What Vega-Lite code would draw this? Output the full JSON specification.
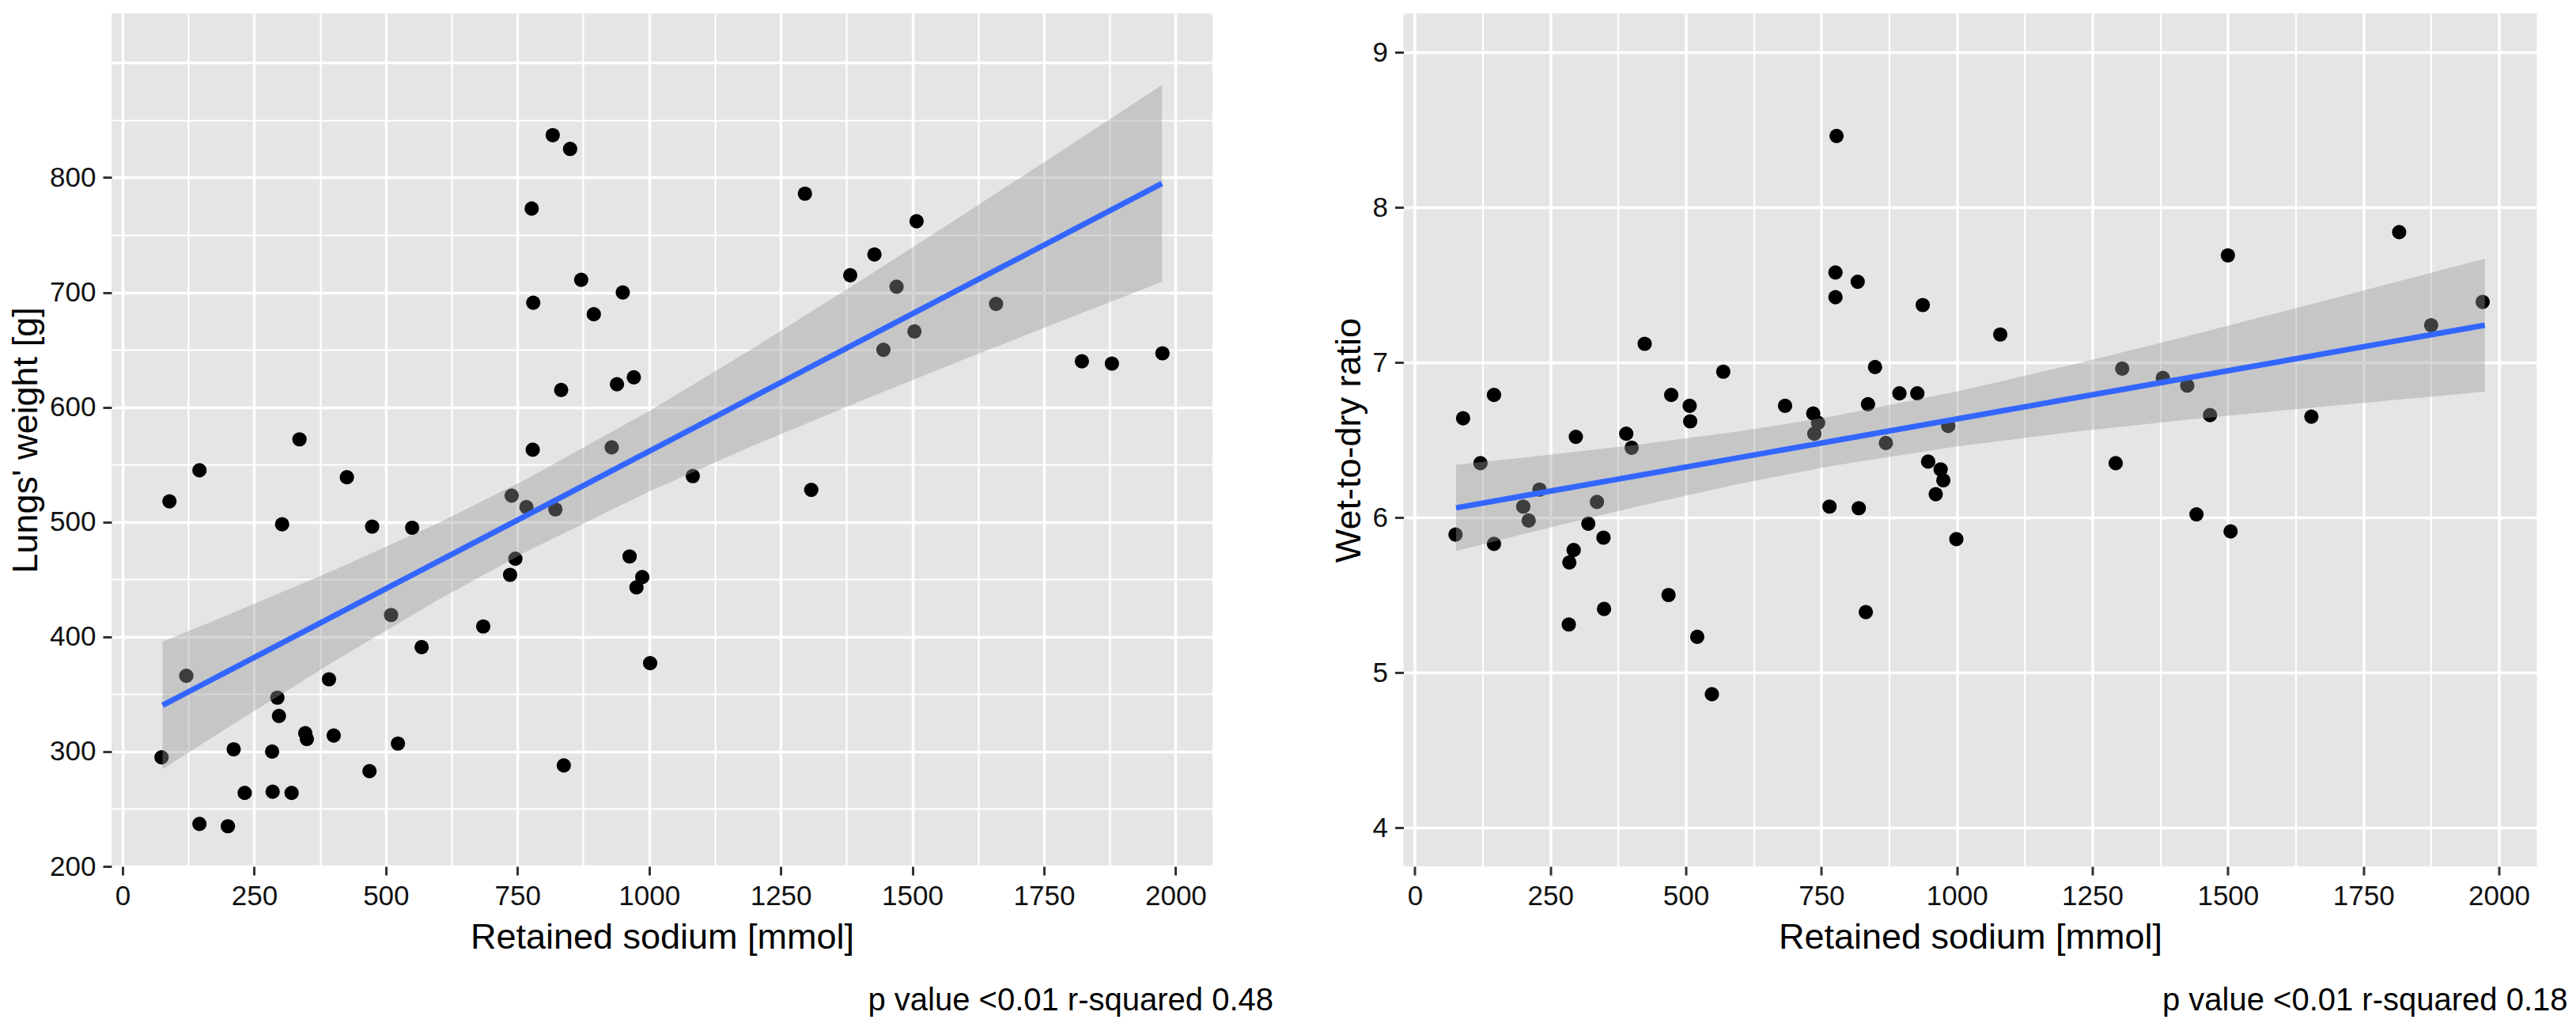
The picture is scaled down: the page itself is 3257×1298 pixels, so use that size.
{
  "$schema": "https://vega.github.io/schema/vega-lite/v6.json",
  "background": "white",
  "padding": {"left": 10, "top": 17, "right": 0, "bottom": 0},
  "datasets": {
    "lungs": [
      {"sodium": 336, "weight": 572}, {"sodium": 146, "weight": 545}, {"sodium": 89, "weight": 518},
      {"sodium": 426, "weight": 539}, {"sodium": 303, "weight": 498}, {"sodium": 474, "weight": 496},
      {"sodium": 550, "weight": 495}, {"sodium": 779, "weight": 563}, {"sodium": 739, "weight": 523},
      {"sodium": 767, "weight": 513}, {"sodium": 822, "weight": 511}, {"sodium": 746, "weight": 468},
      {"sodium": 736, "weight": 454}, {"sodium": 510, "weight": 419}, {"sodium": 685, "weight": 409},
      {"sodium": 568, "weight": 391}, {"sodium": 121, "weight": 366}, {"sodium": 392, "weight": 363},
      {"sodium": 294, "weight": 347}, {"sodium": 297, "weight": 331}, {"sodium": 347, "weight": 316},
      {"sodium": 350, "weight": 311}, {"sodium": 401, "weight": 314}, {"sodium": 523, "weight": 307},
      {"sodium": 211, "weight": 302}, {"sodium": 284, "weight": 300}, {"sodium": 74, "weight": 295},
      {"sodium": 469, "weight": 283}, {"sodium": 838, "weight": 288}, {"sodium": 232, "weight": 264},
      {"sodium": 285, "weight": 265}, {"sodium": 321, "weight": 264}, {"sodium": 146, "weight": 237},
      {"sodium": 200, "weight": 235}, {"sodium": 817, "weight": 837}, {"sodium": 850, "weight": 825},
      {"sodium": 777, "weight": 773}, {"sodium": 871, "weight": 711}, {"sodium": 780, "weight": 691},
      {"sodium": 895, "weight": 681}, {"sodium": 833, "weight": 615}, {"sodium": 1296, "weight": 786},
      {"sodium": 1508, "weight": 762}, {"sodium": 1428, "weight": 733}, {"sodium": 1382, "weight": 715},
      {"sodium": 1470, "weight": 705}, {"sodium": 1659, "weight": 690}, {"sodium": 1504, "weight": 666},
      {"sodium": 1445, "weight": 650}, {"sodium": 1822, "weight": 640}, {"sodium": 1879, "weight": 638},
      {"sodium": 1975, "weight": 647}, {"sodium": 950, "weight": 700}, {"sodium": 939, "weight": 620},
      {"sodium": 971, "weight": 626}, {"sodium": 929, "weight": 565}, {"sodium": 1083, "weight": 540},
      {"sodium": 1308, "weight": 528}, {"sodium": 963, "weight": 470}, {"sodium": 987, "weight": 452},
      {"sodium": 976, "weight": 443}, {"sodium": 1002, "weight": 377}
    ],
    "lungs_fit": [
      {"sodium": 76, "fit": 340.3, "lo": 284.8, "hi": 395.8},
      {"sodium": 200, "fit": 370.0, "lo": 321.0, "hi": 419.0},
      {"sodium": 400, "fit": 417.9, "lo": 378.1, "hi": 457.7},
      {"sodium": 600, "fit": 465.8, "lo": 432.4, "hi": 499.2},
      {"sodium": 768, "fit": 506.0, "lo": 474.5, "hi": 537.5},
      {"sodium": 1000, "fit": 561.6, "lo": 526.6, "hi": 596.6},
      {"sodium": 1200, "fit": 609.5, "lo": 567.0, "hi": 652.0},
      {"sodium": 1400, "fit": 657.4, "lo": 605.1, "hi": 709.7},
      {"sodium": 1600, "fit": 705.3, "lo": 641.9, "hi": 768.7},
      {"sodium": 1800, "fit": 753.2, "lo": 678.1, "hi": 828.3},
      {"sodium": 1974, "fit": 794.9, "lo": 709.2, "hi": 880.6}
    ],
    "ratio": [
      {"sodium": 424, "ratio": 7.12}, {"sodium": 569, "ratio": 6.94}, {"sodium": 146, "ratio": 6.79},
      {"sodium": 473, "ratio": 6.79}, {"sodium": 507, "ratio": 6.72}, {"sodium": 508, "ratio": 6.62},
      {"sodium": 89, "ratio": 6.64}, {"sodium": 297, "ratio": 6.52}, {"sodium": 390, "ratio": 6.54},
      {"sodium": 400, "ratio": 6.45}, {"sodium": 121, "ratio": 6.35}, {"sodium": 230, "ratio": 6.18},
      {"sodium": 200, "ratio": 6.07}, {"sodium": 210, "ratio": 5.98}, {"sodium": 336, "ratio": 6.10},
      {"sodium": 320, "ratio": 5.96}, {"sodium": 348, "ratio": 5.87}, {"sodium": 75, "ratio": 5.89},
      {"sodium": 146, "ratio": 5.83}, {"sodium": 293, "ratio": 5.79}, {"sodium": 285, "ratio": 5.71},
      {"sodium": 468, "ratio": 5.50}, {"sodium": 349, "ratio": 5.41}, {"sodium": 284, "ratio": 5.31},
      {"sodium": 521, "ratio": 5.23}, {"sodium": 548, "ratio": 4.86}, {"sodium": 778, "ratio": 8.46},
      {"sodium": 776, "ratio": 7.58}, {"sodium": 817, "ratio": 7.52}, {"sodium": 776, "ratio": 7.42},
      {"sodium": 937, "ratio": 7.37}, {"sodium": 1080, "ratio": 7.18}, {"sodium": 849, "ratio": 6.97},
      {"sodium": 683, "ratio": 6.72}, {"sodium": 836, "ratio": 6.73}, {"sodium": 894, "ratio": 6.80},
      {"sodium": 927, "ratio": 6.80}, {"sodium": 735, "ratio": 6.67}, {"sodium": 744, "ratio": 6.61},
      {"sodium": 737, "ratio": 6.54}, {"sodium": 984, "ratio": 6.59}, {"sodium": 869, "ratio": 6.48},
      {"sodium": 947, "ratio": 6.36}, {"sodium": 970, "ratio": 6.31}, {"sodium": 975, "ratio": 6.24},
      {"sodium": 961, "ratio": 6.15}, {"sodium": 765, "ratio": 6.07}, {"sodium": 819, "ratio": 6.06},
      {"sodium": 999, "ratio": 5.86}, {"sodium": 832, "ratio": 5.39}, {"sodium": 1500, "ratio": 7.69},
      {"sodium": 1816, "ratio": 7.84}, {"sodium": 1970, "ratio": 7.39}, {"sodium": 1875, "ratio": 7.24},
      {"sodium": 1305, "ratio": 6.96}, {"sodium": 1380, "ratio": 6.90}, {"sodium": 1425, "ratio": 6.85},
      {"sodium": 1467, "ratio": 6.66}, {"sodium": 1654, "ratio": 6.65}, {"sodium": 1293, "ratio": 6.35},
      {"sodium": 1442, "ratio": 6.02}, {"sodium": 1505, "ratio": 5.91}
    ],
    "ratio_fit": [
      {"sodium": 76, "fit": 6.062, "lo": 5.783, "hi": 6.341},
      {"sodium": 200, "fit": 6.139, "lo": 5.893, "hi": 6.385},
      {"sodium": 400, "fit": 6.263, "lo": 6.063, "hi": 6.464},
      {"sodium": 600, "fit": 6.387, "lo": 6.218, "hi": 6.556},
      {"sodium": 768, "fit": 6.491, "lo": 6.332, "hi": 6.650},
      {"sodium": 1000, "fit": 6.635, "lo": 6.458, "hi": 6.812},
      {"sodium": 1200, "fit": 6.760, "lo": 6.546, "hi": 6.974},
      {"sodium": 1400, "fit": 6.884, "lo": 6.621, "hi": 7.147},
      {"sodium": 1600, "fit": 7.008, "lo": 6.690, "hi": 7.326},
      {"sodium": 1800, "fit": 7.132, "lo": 6.755, "hi": 7.509},
      {"sodium": 1974, "fit": 7.240, "lo": 6.811, "hi": 7.669}
    ]
  },
  "hconcat": [
    {
      "width": 1392,
      "height": 1078,
      "title": {
        "text": "p value <0.01 r-squared 0.48",
        "orient": "bottom",
        "anchor": "end",
        "frame": "group",
        "dx": 77,
        "offset": 38,
        "fontSize": 40,
        "fontWeight": "normal",
        "font": "Liberation Sans",
        "color": "#000000"
      },
      "layer": [
        {
          "data": {"name": "lungs"},
          "mark": {"type": "point", "filled": true, "size": 330, "opacity": 1, "color": "#000000"},
          "encoding": {
            "x": {
              "field": "sodium",
              "type": "quantitative",
              "title": "Retained sodium [mmol]",
              "scale": {"domain": [-21, 2070], "nice": false, "zero": false},
              "axis": {
                "orient": "bottom",
                "format": "d",
                "values": [0, 125, 250, 375, 500, 625, 750, 875, 1000, 1125, 1250, 1375, 1500, 1625, 1750, 1875, 2000],
                "labelExpr": "datum.value % 250 == 0 ? datum.label : ''",
                "tickOpacity": {"condition": {"test": "datum.value % 250 == 0", "value": 1}, "value": 0},
                "gridWidth": {"condition": {"test": "datum.value % 250 == 0", "value": 3.4}, "value": 2.2},
                "titlePadding": 12
              }
            },
            "y": {
              "field": "weight",
              "type": "quantitative",
              "title": "Lungs' weight [g]",
              "scale": {"domain": [200, 943], "nice": false, "zero": false},
              "axis": {
                "orient": "left",
                "format": "d",
                "values": [200, 250, 300, 350, 400, 450, 500, 550, 600, 650, 700, 750, 800, 850, 900],
                "labelExpr": "datum.value % 100 == 0 && datum.value <= 800 ? datum.label : ''",
                "tickOpacity": {"condition": {"test": "datum.value % 100 == 0 && datum.value <= 800", "value": 1}, "value": 0},
                "gridWidth": {"condition": {"test": "datum.value % 100 == 0", "value": 3.4}, "value": 2.2},
                "titlePadding": 7
              }
            }
          }
        },
        {
          "data": {"name": "lungs_fit"},
          "mark": {"type": "area", "color": "#999999", "opacity": 0.4},
          "encoding": {
            "x": {"field": "sodium", "type": "quantitative", "title": "Retained sodium [mmol]"},
            "y": {"field": "lo", "type": "quantitative", "title": "Lungs' weight [g]"},
            "y2": {"field": "hi"}
          }
        },
        {
          "data": {"name": "lungs_fit"},
          "mark": {"type": "line", "color": "#3366FF", "strokeWidth": 7},
          "encoding": {
            "x": {"field": "sodium", "type": "quantitative", "title": "Retained sodium [mmol]"},
            "y": {"field": "fit", "type": "quantitative", "title": "Lungs' weight [g]"}
          }
        }
      ]
    },
    {
      "width": 1433,
      "height": 1078,
      "title": {
        "text": "p value <0.01 r-squared 0.18",
        "orient": "bottom",
        "anchor": "end",
        "frame": "group",
        "dx": 39,
        "offset": 38,
        "fontSize": 40,
        "fontWeight": "normal",
        "font": "Liberation Sans",
        "color": "#000000"
      },
      "layer": [
        {
          "data": {"name": "ratio"},
          "mark": {"type": "point", "filled": true, "size": 330, "opacity": 1, "color": "#000000"},
          "encoding": {
            "x": {
              "field": "sodium",
              "type": "quantitative",
              "title": "Retained sodium [mmol]",
              "scale": {"domain": [-21, 2070], "nice": false, "zero": false},
              "axis": {
                "orient": "bottom",
                "format": "d",
                "values": [0, 125, 250, 375, 500, 625, 750, 875, 1000, 1125, 1250, 1375, 1500, 1625, 1750, 1875, 2000],
                "labelExpr": "datum.value % 250 == 0 ? datum.label : ''",
                "tickOpacity": {"condition": {"test": "datum.value % 250 == 0", "value": 1}, "value": 0},
                "gridWidth": {"condition": {"test": "datum.value % 250 == 0", "value": 3.4}, "value": 2.2},
                "titlePadding": 12
              }
            },
            "y": {
              "field": "ratio",
              "type": "quantitative",
              "title": "Wet-to-dry ratio",
              "scale": {"domain": [3.75, 9.25], "nice": false, "zero": false},
              "axis": {
                "orient": "left",
                "format": "d",
                "values": [4, 4.5, 5, 5.5, 6, 6.5, 7, 7.5, 8, 8.5, 9],
                "labelExpr": "datum.value % 1 == 0 ? datum.label : ''",
                "tickOpacity": {"condition": {"test": "datum.value % 1 == 0", "value": 1}, "value": 0},
                "gridWidth": {"condition": {"test": "datum.value % 1 == 0", "value": 3.4}, "value": 2.2},
                "titlePadding": 7
              }
            }
          }
        },
        {
          "data": {"name": "ratio_fit"},
          "mark": {"type": "area", "color": "#999999", "opacity": 0.4},
          "encoding": {
            "x": {"field": "sodium", "type": "quantitative", "title": "Retained sodium [mmol]"},
            "y": {"field": "lo", "type": "quantitative", "title": "Wet-to-dry ratio"},
            "y2": {"field": "hi"}
          }
        },
        {
          "data": {"name": "ratio_fit"},
          "mark": {"type": "line", "color": "#3366FF", "strokeWidth": 7},
          "encoding": {
            "x": {"field": "sodium", "type": "quantitative", "title": "Retained sodium [mmol]"},
            "y": {"field": "fit", "type": "quantitative", "title": "Wet-to-dry ratio"}
          }
        }
      ]
    }
  ],
  "spacing": 241.5,
  "bounds": "flush",
  "config": {
    "font": "Liberation Sans",
    "view": {"fill": "#E5E5E5", "stroke": null},
    "axis": {
      "domain": false,
      "grid": true,
      "gridColor": "#FFFFFF",
      "gridWidth": 3.4,
      "tickColor": "#333333",
      "tickWidth": 3,
      "tickSize": 11,
      "labelFont": "Liberation Sans",
      "labelFontSize": 35,
      "labelColor": "#111111",
      "labelPadding": 9,
      "labelFlush": false,
      "labelOverlap": false,
      "titleFont": "Liberation Sans",
      "titleFontSize": 45,
      "titleFontWeight": "normal",
      "titleColor": "#000000"
    }
  }
}
